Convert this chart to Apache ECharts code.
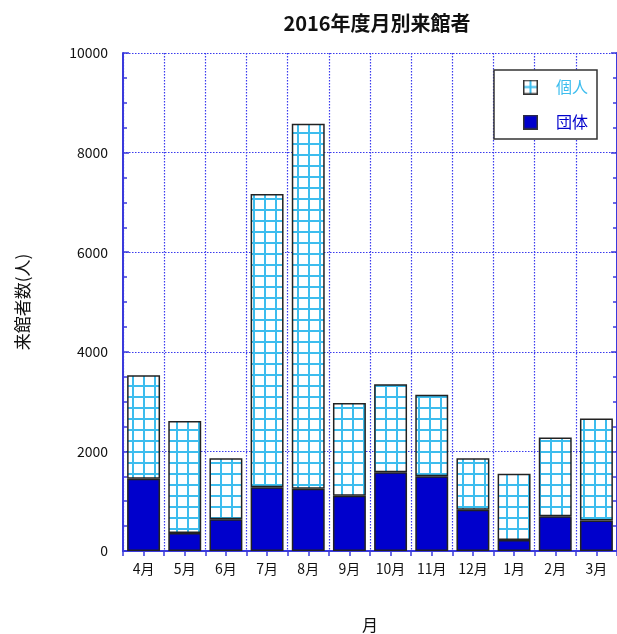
<!DOCTYPE html>
<html><head><meta charset="utf-8">
<script src="https://cdn.jsdelivr.net/npm/echarts@6/dist/echarts.min.js"></script>
<style>html,body{margin:0;padding:0;background:#fff}#c{width:617px;height:634px}</style>
</head><body><div id="c"></div>
<script>
const months = ['4月','5月','6月','7月','8月','9月','10月','11月','12月','1月','2月','3月'];
const groupVisitors = [1450, 360, 640, 1280, 1250, 1110, 1580, 1500, 830, 220, 700, 610];
const individualVisitors = [2080, 2250, 1220, 5890, 7330, 1860, 1770, 1640, 1030, 1330, 1580, 2050];
const yTicks = [0, 2000, 4000, 6000, 8000, 10000];

const FONT = '"Noto Sans CJK JP", "Noto Sans", sans-serif';
const CYAN = '#3DBDEE';
const BLUE = '#0000CC';
const AXIS = '#3A3ADC';

function gridPattern(){
  const c = document.createElement('canvas'); c.width = 11; c.height = 11;
  const g = c.getContext('2d');
  g.fillStyle = '#fff'; g.fillRect(0,0,11,11);
  g.fillStyle = CYAN; g.fillRect(0,0,11,2); g.fillRect(0,0,2,11);
  return c;
}
function iconIndividual(){
  const c = document.createElement('canvas'); c.width = 15; c.height = 15;
  const g = c.getContext('2d');
  g.fillStyle = '#fff'; g.fillRect(0,0,15,15);
  g.fillStyle = CYAN; g.fillRect(6.5,1,2,13); g.fillRect(1,6.5,13,2);
  g.strokeStyle = '#333'; g.lineWidth = 1.5; g.strokeRect(0.75,0.75,13.5,13.5);
  return 'image://' + c.toDataURL();
}
function iconGroup(){
  const c = document.createElement('canvas'); c.width = 15; c.height = 15;
  const g = c.getContext('2d');
  g.fillStyle = BLUE; g.fillRect(0,0,15,15);
  g.strokeStyle = '#333'; g.lineWidth = 1.5; g.strokeRect(0.75,0.75,13.5,13.5);
  return 'image://' + c.toDataURL();
}

const chart = echarts.init(document.getElementById('c'), null, {renderer:'canvas'});
const dotted = {show:true, lineStyle:{color:'#3A3AEE', type:[1.5,1.5], width:1.2}};
chart.setOption({
  animation:false,
  backgroundColor:'#fff',
  title:{text:'2016年度月別来館者', left:372, textAlign:'center', top:8,
    textStyle:{fontFamily:FONT, fontSize:20, fontWeight:'bold', color:'#111'}},
  legend:{
    orient:'vertical', left:494, top:70,
    backgroundColor:'#fff', borderColor:'#333', borderWidth:1.5,
    padding:[9, 9, 9, 29], itemGap:19, itemWidth:15, itemHeight:15,
    textStyle:{fontFamily:FONT, fontSize:16, padding:[0,0,0,13]},
    data:[
      {name:'個人', icon:iconIndividual(), textStyle:{color:CYAN}},
      {name:'団体', icon:iconGroup(), textStyle:{color:BLUE}}
    ]
  },
  grid:{left:123, right:0, top:53, bottom:83, outerBoundsMode:'none', containLabel:false},
  xAxis:[
    {type:'category', data:months, position:'bottom',
     name:'月', nameLocation:'middle', nameGap:66,
     nameTextStyle:{fontFamily:FONT, fontSize:16, color:'#111'},
     axisLine:{lineStyle:{color:AXIS, width:2}},
     axisTick:{show:false},
     axisLabel:{fontFamily:FONT, fontSize:14, color:'#111', margin:11},
     splitLine:dotted},
    {type:'value', position:'top', min:0, max:24, interval:1,
     axisLine:{show:true, lineStyle:{color:AXIS, width:2}},
     axisTick:{show:true, inside:true, length:5, lineStyle:{color:AXIS, width:1.5}},
     axisLabel:{show:false}, splitLine:{show:false}}
  ],
  yAxis:[
    {type:'value', min:0, max:10000, interval:2000, position:'left',
     name:'来館者数(人)', nameLocation:'middle', nameGap:92, nameRotate:90,
     nameTextStyle:{fontFamily:FONT, fontSize:17, color:'#111'},
     axisLine:{show:true, lineStyle:{color:AXIS, width:2}},
     axisTick:{show:true, inside:true, length:6, lineStyle:{color:AXIS, width:1.5}},
     minorTick:{show:true, splitNumber:4, length:4, lineStyle:{color:AXIS, width:1.5}},
     axisLabel:{fontFamily:FONT, fontSize:14, color:'#111', margin:15,
       formatter:v=>yTicks.includes(v)?String(v):''},
     splitLine:dotted},
    {type:'value', min:0, max:10000, interval:2000, position:'right',
     axisLine:{show:true, lineStyle:{color:AXIS, width:2}},
     axisTick:{show:true, inside:true, length:6, lineStyle:{color:AXIS, width:1.5}},
     minorTick:{show:true, splitNumber:4, length:4, lineStyle:{color:AXIS, width:1.5}},
     axisLabel:{show:false}, splitLine:{show:false}}
  ],
  series:[
    {name:'団体', type:'bar', stack:'t', xAxisIndex:0, yAxisIndex:0, barCategoryGap:'20%',
     itemStyle:{color:BLUE, borderColor:'#222', borderWidth:1.5},
     data:groupVisitors},
    {name:'個人', type:'bar', stack:'t', xAxisIndex:0, yAxisIndex:0, barCategoryGap:'20%',
     itemStyle:{color:{image:gridPattern(), repeat:'repeat'}, borderColor:'#222', borderWidth:1.5},
     data:individualVisitors}
  ]
});
</script></body></html>
